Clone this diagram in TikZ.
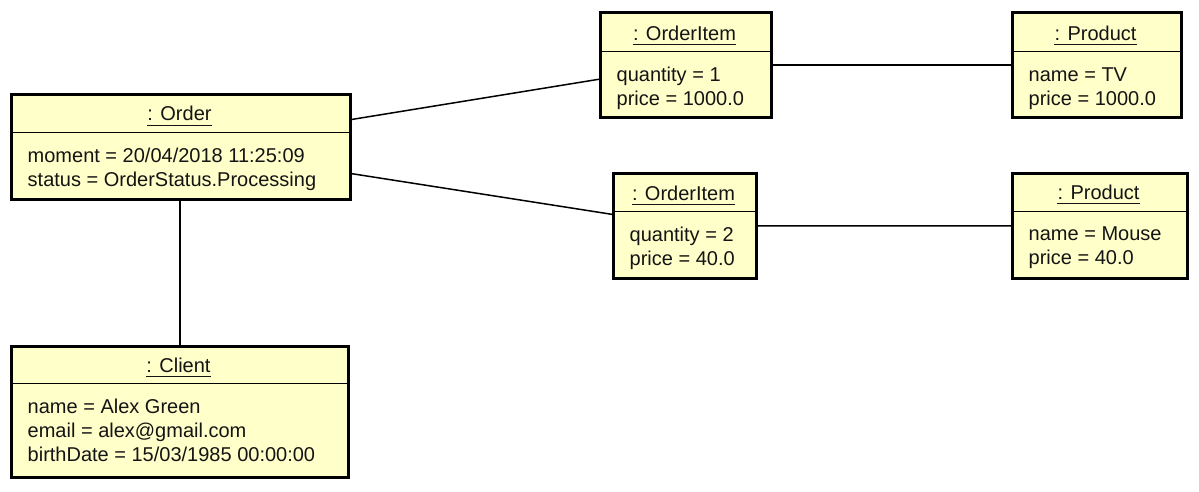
\documentclass[tikz,border=0pt]{standalone}
\usepackage{fontspec}
\setmainfont{Liberation Sans}
\definecolor{objfill}{RGB}{255,255,202}
\definecolor{txt}{RGB}{20,20,20}
\tikzset{
  objbox/.style={draw=black, line width=3pt, fill=objfill, inner sep=0pt, anchor=north west},
  divline/.style={draw=black, line width=1pt},
  titletext/.style={inner sep=0pt, anchor=base, text=txt, font=\fontsize{20}{24}\selectfont},
  attrtext/.style={inner sep=0pt, anchor=base west, text=txt, font=\fontsize{20}{24}\selectfont},
  uline/.style={draw=txt, line width=1pt},
  link/.style={draw=black, line width=1.5pt}
}
% #1 name, #2 x1, #3 y1, #4 x2, #5 y2, #6 ydiv, #7 title, #8 attribute lines
\newcommand\umlobj[8]{%
  \node[objbox, minimum width={(#4-#2)*1pt}, minimum height={(#5-#3)*1pt}] (#1) at (#2,#3) {};
  \draw[divline] (#2,#6) -- (#4,#6);
  \node[titletext] (#1-t) at ({(#2+#4)/2},{#6-11.5}) {#7};
  \draw[uline] ([yshift=-4.3pt]#1-t.base west) -- ([yshift=-4.3pt]#1-t.base east);
  \foreach \ln [count=\i] in {#8} {
    \node[attrtext] (#1-a\i) at ({#2+17.5},{#6+29.5+24*(\i-1)}) {\ln};
  }
}
\begin{document}
\begin{tikzpicture}[x=1pt,y=-1pt]
\useasboundingbox (0,0) rectangle (1199,492);
\fill[white] (0,0) rectangle (1199,492);

\umlobj{order}{10}{93}{349}{198}{132.5}{: Order}{moment = 20/04/2018 11:25:09,status = OrderStatus.Processing}
\umlobj{oia}{599}{11.5}{770}{116}{52}{: OrderItem}{quantity = 1,price = 1000.0}
\umlobj{oib}{612}{172}{755}{276.5}{211.5}{: OrderItem}{quantity = 2,price = 40.0}
\umlobj{pra}{1011}{11.5}{1180}{116}{52}{: Product}{name = TV,price = 1000.0}
\umlobj{prb}{1011}{172}{1186}{277}{211}{: Product}{name = Mouse,price = 40.0}
\umlobj{client}{10}{345}{347}{476}{383.5}{: Client}{name = Alex Green,email = alex@gmail.com,birthDate = 15/03/1985 00:00:00}

\draw[link] (order) -- (oia);
\draw[link] (order) -- (oib);
\draw[link] (oia) -- (pra);
\draw[link] (oib) -- (prb);
\draw[link] (order.south -| client.north) -- (client.north);
\end{tikzpicture}
\end{document}
